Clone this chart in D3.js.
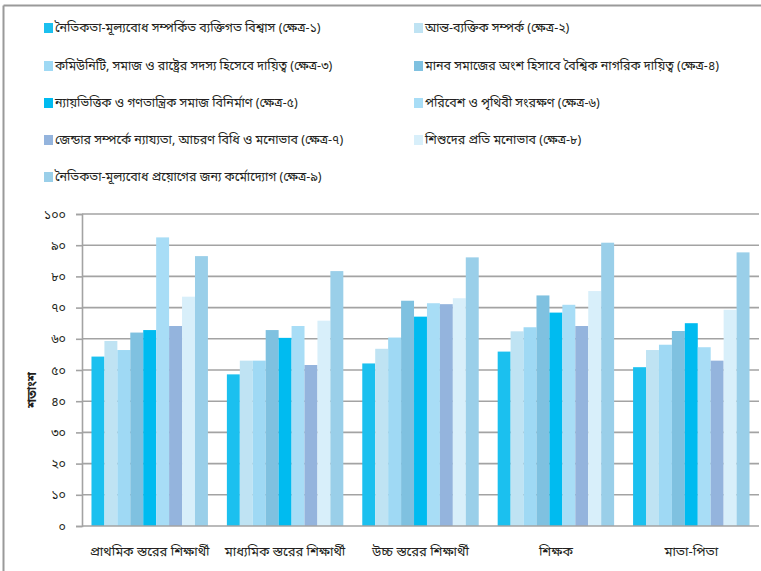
<!DOCTYPE html>
<html>
<head>
<meta charset="utf-8">
<script src="https://cdn.jsdelivr.net/npm/d3@7"></script>
<style>
  html, body { margin: 0; padding: 0; background: #fff; }
  svg { display: block; }
  text { font-family: "Noto Sans Bengali", "Noto Sans", "DejaVu Sans", sans-serif; fill: #231f20; }
</style>
</head>
<body>
<svg id="chart" width="761" height="571"></svg>
<script>
// Respondent groups along the x axis
const categories = [
  "প্রাথমিক স্তরের শিক্ষার্থী",
  "মাধ্যমিক স্তরের শিক্ষার্থী",
  "উচ্চ স্তরের শিক্ষার্থী",
  "শিক্ষক",
  "মাতা-পিতা"
];

// Nine domains (ক্ষেত্র ১–৯)
const seriesNames = [
  "নৈতিকতা-মূল্যবোধ সম্পর্কিত ব্যক্তিগত বিশ্বাস (ক্ষেত্র-১)",
  "আন্ত-ব্যক্তিক সম্পর্ক (ক্ষেত্র-২)",
  " কমিউনিটি, সমাজ ও রাষ্ট্রের সদস্য হিসেবে দায়িত্ব (ক্ষেত্র-৩)",
  "মানব সমাজের অংশ হিসাবে বৈশ্বিক নাগরিক দায়িত্ব (ক্ষেত্র-৪)",
  "ন্যায়ভিত্তিক ও গণতান্ত্রিক সমাজ বিনির্মাণ (ক্ষেত্র-৫)",
  "পরিবেশ ও পৃথিবী সংরক্ষণ (ক্ষেত্র-৬)",
  "জেন্ডার সম্পর্কে ন্যায্যতা, আচরণ বিধি ও মনোভাব (ক্ষেত্র-৭)",
  "শিশুদের প্রতি মনোভাব (ক্ষেত্র-৮)",
  "নৈতিকতা-মূল্যবোধ প্রয়োগের জন্য কর্মোদ্যোগ (ক্ষেত্র-৯)"
];

const seriesColors = [
  "#1bc0ef", "#bfe3f3", "#9fd9f4", "#7fc1e0", "#00bbf0",
  "#a8ddf6", "#94b4dd", "#d8effa", "#9acfe9"
];

// Percentages per domain, one value per respondent group
const domain1 = [54.3, 48.6, 52.1, 55.9, 50.9];
const domain2 = [59.3, 53.0, 56.8, 62.4, 56.4];
const domain3 = [56.4, 53.0, 60.4, 63.7, 58.1];
const domain4 = [62.0, 62.8, 72.2, 73.9, 62.5];
const domain5 = [62.8, 60.3, 67.1, 68.4, 65.0];
const domain6 = [92.5, 64.1, 71.4, 70.9, 57.3];
const domain7 = [64.1, 51.6, 71.1, 64.1, 53.0];
const domain8 = [73.5, 65.8, 73.0, 75.3, 69.3];
const domain9 = [86.5, 81.7, 86.1, 90.8, 87.7];
const seriesValues = [domain1, domain2, domain3, domain4, domain5, domain6, domain7, domain8, domain9];

const yTicks = [0, 10, 20, 30, 40, 50, 60, 70, 80, 90, 100];
const yTickLabels = ["০", "১০", "২০", "৩০", "৪০", "৫০", "৬০", "৭০", "৮০", "৯০", "১০০"];
const yTitle = "শতাংশ";

const svg = d3.select("#chart");

// frame lines on the top and left edges
svg.append("line").attr("x1", 3.5).attr("x2", 761).attr("y1", 5.5).attr("y2", 5.5)
  .attr("stroke", "#9a9a9a").attr("stroke-width", 2);
svg.append("line").attr("x1", 3.5).attr("x2", 3.5).attr("y1", 5.5).attr("y2", 571)
  .attr("stroke", "#9a9a9a").attr("stroke-width", 2);

// legend: two columns
const legendRows = [22, 60, 97, 134, 171];
const legendCols = [44, 414];
seriesNames.forEach((name, i) => {
  const col = i % 2, row = Math.floor(i / 2);
  const g = svg.append("g").attr("transform", `translate(${legendCols[col]},${legendRows[row]})`);
  g.append("rect").attr("x", 0).attr("y", 1).attr("width", 9).attr("height", 10)
    .attr("fill", seriesColors[i]);
  g.append("text").attr("x", 11).attr("y", 10).attr("font-size", 12.5).text(name);
});

// plot area
const plotLeft = 82, plotRight = 759, plotTop = 214, plotBottom = 526;

const x0 = d3.scaleBand().domain(categories).range([plotLeft, plotRight])
  .paddingInner(0.14).paddingOuter(0.07);
const x1 = d3.scaleBand().domain(d3.range(seriesNames.length)).range([0, x0.bandwidth()]);
const y = d3.scaleLinear().domain([0, 100]).range([plotBottom, plotTop]);

// horizontal gridlines
svg.append("g").selectAll("line").data(yTicks.slice(1)).join("line")
  .attr("x1", plotLeft).attr("x2", plotRight)
  .attr("y1", d => y(d)).attr("y2", d => y(d))
  .attr("stroke", "#a3a3a3").attr("stroke-width", 1.6);

// bars
const groups = svg.append("g").selectAll("g").data(categories).join("g")
  .attr("transform", d => `translate(${x0(d)},0)`);
groups.selectAll("rect").data((d, gi) => seriesValues.map((vals, si) => ({ si, v: vals[gi] })))
  .join("rect")
  .attr("x", d => x1(d.si))
  .attr("y", d => y(d.v))
  .attr("width", x1.bandwidth())
  .attr("height", d => y(0) - y(d.v))
  .attr("fill", d => seriesColors[d.si]);

// y axis
const yAxis = d3.axisLeft(y).tickValues(yTicks)
  .tickFormat((d, i) => yTickLabels[i]).tickSize(6).tickPadding(10);
const ya = svg.append("g").attr("transform", `translate(${plotLeft},0)`).call(yAxis);
ya.select(".domain").attr("stroke", "#a3a3a3").attr("stroke-width", 1.6);
ya.selectAll(".tick line").attr("stroke", "#a3a3a3").attr("stroke-width", 1.6);
ya.selectAll(".tick text").attr("font-size", 12.5).attr("fill", "#231f20")
  .style("font-family", "\"Noto Sans Bengali\", \"Noto Sans\", sans-serif");

// x baseline
svg.append("line").attr("x1", plotLeft).attr("x2", plotRight).attr("y1", y(0)).attr("y2", y(0))
  .attr("stroke", "#a3a3a3").attr("stroke-width", 1.6);

// category labels
svg.append("g").selectAll("text").data(categories).join("text")
  .attr("x", d => x0(d) + x0.bandwidth() / 2).attr("y", 556)
  .attr("text-anchor", "middle").attr("font-size", 13).text(d => d);

// y axis title
svg.append("text").attr("transform", "translate(36,390) rotate(-90)")
  .attr("text-anchor", "middle").attr("font-size", 12.5).attr("font-weight", "bold")
  .text(yTitle);
</script>
</body>
</html>
